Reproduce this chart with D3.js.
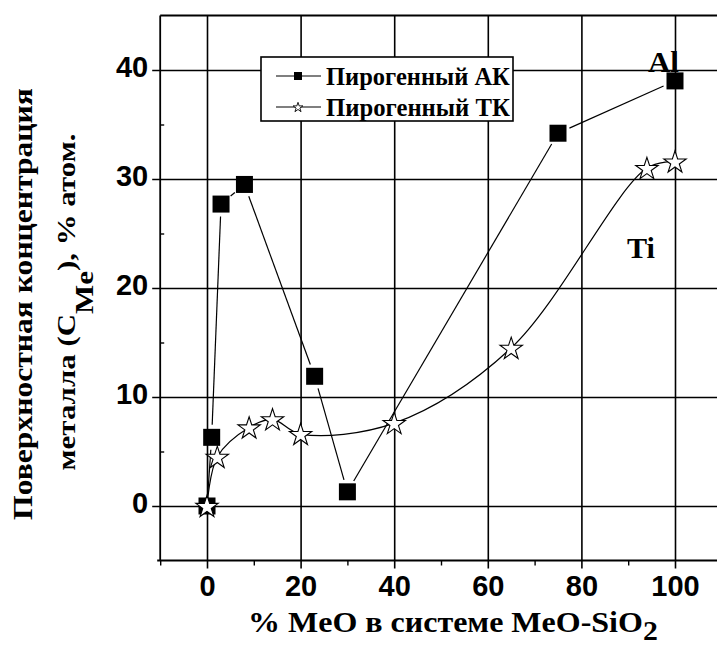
<!DOCTYPE html>
<html>
<head>
<meta charset="utf-8">
<script src="https://cdn.jsdelivr.net/npm/d3@7"></script>
<style>
  html, body { margin: 0; padding: 0; background: #fff; overflow: hidden; }
  svg { display: block; }
</style>
</head>
<body>
<script>
// Surface metal concentration vs. MeO content in MeO-SiO2 systems
const akX = [0, 1, 3, 8, 23, 30, 75, 100];
const akY = [0, 6.3, 27.7, 29.5, 11.9, 1.3, 34.2, 39.0];

const tkX = [0, 2.2, 9, 14, 20, 40, 65, 94, 100];
const tkY = [0, 4.5, 7.2, 7.95, 6.6, 7.6, 14.5, 31.0, 31.6];

const xMajor = [0, 20, 40, 60, 80, 100];
const xMinor = [-10, 10, 30, 50, 70, 90];
const yMajor = [0, 10, 20, 30, 40];
const yMinor = [5, 15, 25, 35];

const seriesNames = ["Пирогенный АК", "Пирогенный ТК"];
const xTitle = "% MeO в системе MeO-SiO";
const xTitleSub = "2";
const yTitle1 = "Поверхностная концентрация";
const yTitle2a = "металла (C";
const yTitle2sub = "Me";
const yTitle2b = "), % атом.";
const curveLabels = ["Al", "Ti"];

const W = 717, H = 648;
const SERIF = '"Liberation Serif", "Times New Roman", serif';
const SANS = '"Liberation Sans", Arial, sans-serif';

const x = d3.scaleLinear().domain([-10, 110]).range([160.2, 721.8]);
const y = d3.scaleLinear().domain([-5, 45]).range([560.5, 15.5]);

const svg = d3.select("body").append("svg")
  .attr("width", W).attr("height", H)
  .style("background", "#fff");

const plotL = x.range()[0], plotR = x.range()[1];
const plotB = y.range()[0], plotT = y.range()[1];

// Major gridlines via axes (extending a little outside the frame)
const gx = svg.append("g")
  .attr("transform", `translate(0,${plotB})`)
  .call(d3.axisBottom(x).tickValues(xMajor).tickSize(-(plotB - plotT)).tickFormat(d3.format("d")));
gx.select(".domain").remove();
gx.selectAll(".tick line").attr("y1", 8).attr("stroke", "#000").attr("stroke-width", 1.6);
gx.selectAll(".tick text")
  .attr("y", 35.5).attr("dy", 0)
  .attr("fill", "#000")
  .style("font-family", SANS).style("font-weight", "bold").style("font-size", "29px");

const gxm = svg.append("g")
  .attr("transform", `translate(0,${plotB})`)
  .call(d3.axisBottom(x).tickValues(xMinor).tickSize(5).tickFormat(""));
gxm.select(".domain").remove();
gxm.selectAll(".tick line").attr("stroke", "#000").attr("stroke-width", 1.4);

const gy = svg.append("g")
  .attr("transform", `translate(${plotL},0)`)
  .call(d3.axisLeft(y).tickValues(yMajor).tickSize(-(plotR - plotL)).tickFormat(d3.format("d")));
gy.select(".domain").remove();
gy.selectAll(".tick line").attr("x1", -8).attr("stroke", "#000").attr("stroke-width", 1.6);
gy.selectAll(".tick text")
  .attr("x", -12).attr("dy", 0).attr("y", 6.5)
  .attr("fill", "#000")
  .style("font-family", SANS).style("font-weight", "bold").style("font-size", "29px");

const gym = svg.append("g")
  .attr("transform", `translate(${plotL},0)`)
  .call(d3.axisLeft(y).tickValues(yMinor).tickSize(-4).tickFormat(""));
gym.select(".domain").remove();
gym.selectAll(".tick line").attr("stroke", "#000").attr("stroke-width", 1.4);

// Frame: left, bottom and top edges
const frame = svg.append("g").attr("stroke", "#000").attr("stroke-width", 1.8);
frame.append("line").attr("x1", plotL).attr("x2", plotL).attr("y1", plotB).attr("y2", plotT);
frame.append("line").attr("x1", plotL - 3).attr("x2", plotR).attr("y1", plotB).attr("y2", plotB);
frame.append("line").attr("x1", plotL).attr("x2", plotR).attr("y1", plotT).attr("y2", plotT);

// Text helper: stretches a text run to a given advance width
function fitted(parent, opts) {
  const g = parent.append("g");
  const t = g.append("text")
    .attr("x", 0).attr("y", 0)
    .attr("text-anchor", opts.anchor || "start")
    .attr("fill", "#000")
    .style("font-family", opts.family || SERIF)
    .style("font-weight", "bold")
    .style("font-size", opts.size + "px");
  opts.build(t);
  const w = t.node().getBBox().width;
  const k = opts.width ? opts.width / w : 1;
  g.attr("transform", `translate(${opts.x},${opts.y})` + (opts.rotate ? " rotate(-90)" : "") + ` scale(${k},1)`);
  return g;
}

// Legend
const legend = svg.append("g");
legend.append("rect")
  .attr("x", 261).attr("y", 57).attr("width", 252).attr("height", 64)
  .attr("fill", "#fff").attr("stroke", "#000").attr("stroke-width", 1.6);
const legendRows = [76, 107];
legendRows.forEach((ry, i) => {
  legend.append("line").attr("x1", 276).attr("x2", 321).attr("y1", ry).attr("y2", ry)
    .attr("stroke", "#000").attr("stroke-width", 1.2);
  if (i === 0) {
    legend.append("rect").attr("x", 294).attr("y", ry - 4).attr("width", 8).attr("height", 8).attr("fill", "#000");
  } else {
    legend.append("path").attr("d", d3.symbol(d3.symbolStar, 30)())
      .attr("transform", `translate(298,${ry + 0.5})`)
      .attr("fill", "#fff").attr("stroke", "#000").attr("stroke-width", 0.9);
  }
  fitted(legend, { x: 326, y: ry + 8.5, size: 25, width: 184, build: t => t.text(seriesNames[i]) });
});

// AK series: straight segments that stop short of each marker
const akPts = akX.map((v, i) => [x(v), y(akY[i])]);
const gap = 12.5;
const akLines = svg.append("g").attr("stroke", "#000").attr("stroke-width", 1.2);
d3.pairs(akPts).forEach(([a, b]) => {
  const dx = b[0] - a[0], dy = b[1] - a[1];
  const len = Math.hypot(dx, dy);
  if (len <= 2 * gap) return;
  const ux = dx / len, uy = dy / len;
  akLines.append("line")
    .attr("x1", a[0] + ux * gap).attr("y1", a[1] + uy * gap)
    .attr("x2", b[0] - ux * gap).attr("y2", b[1] - uy * gap);
});

// TK series: smooth curve
const tkPts = tkX.map((v, i) => [v, tkY[i]]);
svg.append("path")
  .datum(tkPts)
  .attr("d", d3.line().x(d => x(d[0])).y(d => y(d[1])).curve(d3.curveCatmullRom.alpha(0.5)))
  .attr("fill", "none").attr("stroke", "#000").attr("stroke-width", 1.2);

// AK markers
svg.append("g").selectAll("rect")
  .data(akPts).join("rect")
  .attr("x", d => d[0] - 8.5).attr("y", d => d[1] - 8.5)
  .attr("width", 17).attr("height", 17).attr("fill", "#000");

// TK markers
svg.append("g").selectAll("path")
  .data(tkPts).join("path")
  .attr("d", d3.symbol(d3.symbolStar, 155)())
  .attr("transform", d => `translate(${x(d[0])},${y(d[1]) + 1})`)
  .attr("fill", "#fff").attr("stroke", "#000").attr("stroke-width", 1.1);

// Curve labels
fitted(svg, { x: 648, y: 72, size: 29, width: 31, build: t => t.text(curveLabels[0]) });
fitted(svg, { x: 627, y: 258, size: 30, width: 28, build: t => t.text(curveLabels[1]) });

// Axis titles
fitted(svg, {
  x: 248, y: 632, size: 29, width: 410,
  build: t => {
    t.append("tspan").text(xTitle);
    t.append("tspan").attr("dy", 8).style("font-size", "27px").text(xTitleSub);
  }
});
fitted(svg, { x: 32, y: 304, size: 27, width: 432, anchor: "middle", rotate: true, build: t => t.text(yTitle1) });
fitted(svg, {
  x: 75, y: 302, size: 25, width: 337, anchor: "middle", rotate: true,
  build: t => {
    t.append("tspan").text(yTitle2a);
    t.append("tspan").attr("dy", 18).text(yTitle2sub);
    t.append("tspan").attr("dy", -18).text(yTitle2b);
  }
});
</script>
</body>
</html>
